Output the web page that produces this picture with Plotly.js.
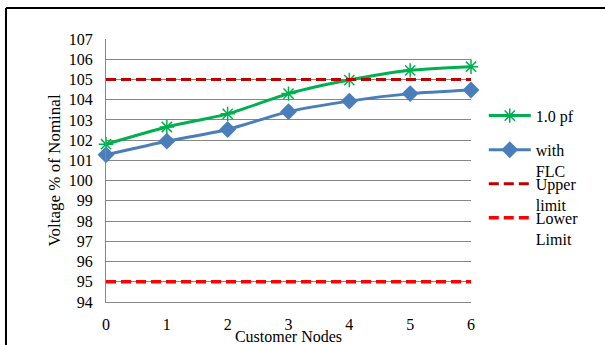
<!DOCTYPE html>
<html>
<head>
<meta charset="utf-8">
<script src="https://cdn.plot.ly/plotly-3.0.1.min.js"></script>
<style>
  html, body { margin: 0; padding: 0; background: #fff; }
  #chart { width: 605px; height: 345px; }
</style>
</head>
<body>
<div id="chart"></div>
<script>
// Customer node index along the feeder
const nodes = [0, 1, 2, 3, 4, 5, 6];
// Voltage profile, % of nominal
const unityPf = [101.8, 102.65, 103.3, 104.3, 104.97, 105.45, 105.63];
const withFlc = [101.28, 101.95, 102.53, 103.41, 103.93, 104.3, 104.48];
// Statutory voltage limits
const upperLimit = [105, 105, 105, 105, 105, 105, 105];
const lowerLimit = [95, 95, 95, 95, 95, 95, 95];

const seriesNames = ['1.0 pf', 'with<br>FLC', 'Upper<br>limit', 'Lower<br>Limit'];

const FONT = 'Liberation Serif';

const traces = [
  {
    x: nodes, y: unityPf, name: seriesNames[0], mode: 'lines+markers',
    line: { color: '#00B050', width: 3, shape: 'spline', smoothing: 0.6 },
    marker: { symbol: 'asterisk-open', size: 12, color: '#00B050', line: { color: '#00B050', width: 1.5 } },
    cliponaxis: false, legend: 'legend'
  },
  {
    x: nodes, y: withFlc, name: seriesNames[1], mode: 'lines+markers',
    line: { color: '#4A7EBB', width: 3, shape: 'spline', smoothing: 0.6 },
    marker: { symbol: 'diamond', size: 13, color: '#4A7EBB' },
    cliponaxis: false, legend: 'legend2'
  },
  {
    x: nodes, y: upperLimit, name: seriesNames[2], mode: 'lines',
    line: { color: '#C00000', width: 3, dash: '10px,5px' },
    cliponaxis: false, legend: 'legend3'
  },
  {
    x: nodes, y: lowerLimit, name: seriesNames[3], mode: 'lines',
    line: { color: '#FF0000', width: 3.5, dash: '10px,5px' },
    cliponaxis: false, legend: 'legend4'
  }
];

function legendAt(yPaper) {
  return {
    x: 1.035, xanchor: 'left', y: yPaper, yanchor: 'top',
    bgcolor: 'rgba(0,0,0,0)', borderwidth: 0, valign: 'top',
    itemwidth: 42,
    font: { family: FONT, size: 16, color: '#000' },
    itemclick: false, itemdoubleclick: false
  };
}

const layout = {
  width: 605, height: 345,
  margin: { l: 106, r: 134, t: 39, b: 43 },
  paper_bgcolor: '#fff', plot_bgcolor: '#fff',
  font: { family: FONT, size: 16, color: '#000' },
  showlegend: true,
  legend: legendAt(0.773),
  legend2: legendAt(0.643),
  legend3: legendAt(0.514),
  legend4: legendAt(0.385),
  xaxis: {
    range: [0, 6], dtick: 1, tick0: 0,
    showgrid: false, zeroline: false,
    showline: true, linecolor: '#868686', linewidth: 1,
    ticks: '', ticklabelstandoff: 8,
    tickfont: { family: FONT, size: 16, color: '#000' },
    title: { text: 'Customer Nodes', font: { family: FONT, size: 16, color: '#000' }, standoff: 3 }
  },
  yaxis: {
    range: [94, 107], dtick: 1, tick0: 94,
    showgrid: true, gridcolor: '#868686', gridwidth: 1, zeroline: false,
    showline: true, linecolor: '#868686', linewidth: 1,
    ticks: '', ticklabelstandoff: 9,
    tickfont: { family: FONT, size: 16, color: '#000' },
    title: { text: 'Voltage % of Nominal', font: { family: FONT, size: 17, color: '#000' }, standoff: 3 }
  },
  shapes: [
    // outer frame: left and top edges
    { type: 'line', xref: 'paper', yref: 'paper', x0: -0.274, x1: -0.274, y0: -0.3, y1: 1.118,
      line: { color: '#000', width: 2 } },
    { type: 'line', xref: 'paper', yref: 'paper', x0: -0.274, x1: 1.5, y0: 1.118, y1: 1.118,
      line: { color: '#000', width: 2 } }
  ]
};

Plotly.newPlot('chart', traces, layout, { displayModeBar: false, staticPlot: true });
</script>
</body>
</html>
